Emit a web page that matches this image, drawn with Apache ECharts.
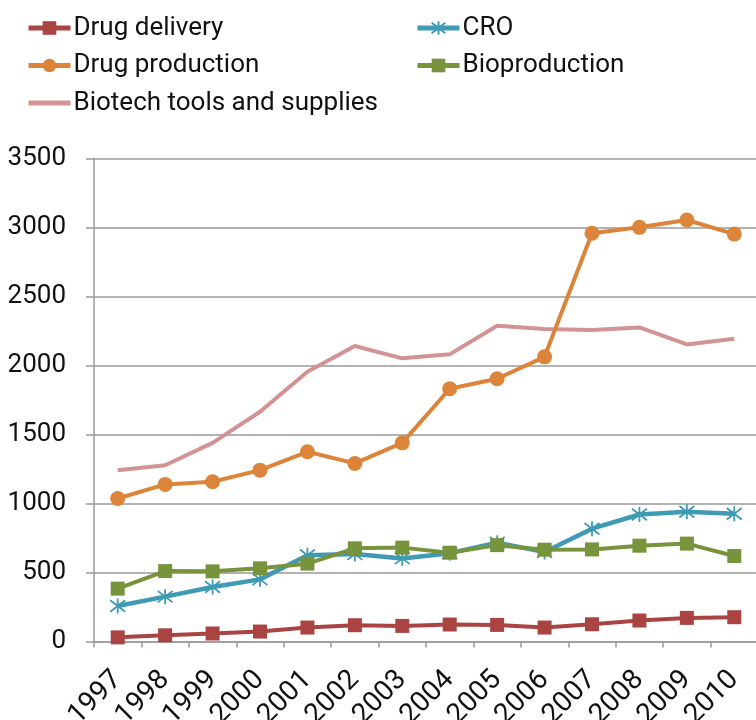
<!DOCTYPE html>
<html>
<head>
<meta charset="utf-8">
<script src="https://cdn.jsdelivr.net/npm/echarts@6/dist/echarts.min.js"></script>
<style>
html,body{margin:0;padding:0;background:#fff;}
#chart{width:756px;height:720px;}
</style>
</head>
<body>
<div id="chart"></div>
<script>
const years = ['1997','1998','1999','2000','2001','2002','2003','2004','2005','2006','2007','2008','2009','2010'];
const drugDelivery = [30,45,58,72,101,118,113,123,120,101,125,152,171,176];
const cro = [257,325,395,450,624,633,602,640,716,648,817,920,940,925];
const drugProduction = [1036,1138,1157,1241,1374,1290,1439,1831,1903,2062,2957,3000,3053,2951];
const bioproduction = [383,510,508,530,564,675,680,643,698,665,667,694,709,619];
const biotechTools = [1241,1277,1439,1664,1954,2140,2051,2080,2287,2263,2256,2275,2152,2193];
const yMin = 0, yMax = 3500, yStep = 500;

const FONT = 'Roboto';
const chart = echarts.init(document.getElementById('chart'));
const asterisk = 'path://M0,0L10,10M10,0L0,10M5,-1.5L5,11.5';

function legendOf(left, names) {
  return {
    left: left, top: 14, padding: 0,
    orient: 'vertical',
    itemWidth: 42,
    itemHeight: 17,
    itemGap: 9.5,
    lineStyle: {width: 5},
    data: names,
    textStyle: {fontFamily: FONT, fontSize: 26, color: '#111', lineHeight: 28, padding: [0,0,0,-2]}
  };
}

chart.setOption({
  animation: false,
  backgroundColor: '#fff',
  legend: [
    legendOf(26, ['Drug delivery', 'Drug production',
      {name: 'Biotech tools and supplies', itemStyle: {opacity: 0}}]),
    legendOf(415, ['CRO', 'Bioproduction'])
  ],
  grid: {left: 94, right: -2, top: 158.3, bottom: 78.5, outerBoundsMode: 'none', containLabel: false},
  xAxis: {
    type: 'category',
    data: years,
    boundaryGap: true,
    axisLine: {lineStyle: {color: '#9a9a9a', width: 1.5}},
    axisTick: {show: true, length: 6, lineStyle: {color: '#9a9a9a', width: 1.5}},
    axisLabel: {interval: 0, rotate: 45, margin: 34, fontFamily: FONT, fontSize: 28, color: '#111'}
  },
  yAxis: {
    type: 'value',
    min: yMin, max: yMax, interval: yStep,
    axisLine: {show: true, lineStyle: {color: '#9a9a9a', width: 1.5}},
    axisTick: {show: true, length: 8, lineStyle: {color: '#9a9a9a', width: 1.5}},
    splitLine: {lineStyle: {color: '#9a9a9a', width: 1.5}},
    axisLabel: {margin: 28, fontFamily: FONT, fontSize: 26, color: '#111',
      formatter: function (v) { return String(v); }}
  },
  series: [
    {name: 'Biotech tools and supplies', type: 'line', data: biotechTools, symbol: 'none', z: 1,
     lineStyle: {color: '#D39394', width: 4}, itemStyle: {color: '#D39394'}},
    {name: 'Drug delivery', type: 'line', data: drugDelivery, symbol: 'rect', symbolSize: 14, z: 2,
     lineStyle: {color: '#A94442', width: 4}, itemStyle: {color: '#A94442'}},
    {name: 'CRO', type: 'line', data: cro, symbol: asterisk, symbolSize: 15, z: 3,
     lineStyle: {color: '#3F9AB5', width: 4.5},
     itemStyle: {color: 'rgba(0,0,0,0)', borderColor: '#3F9AB5', borderWidth: 1.8}},
    {name: 'Drug production', type: 'line', data: drugProduction, symbol: 'circle', symbolSize: 15, z: 4,
     lineStyle: {color: '#DD843B', width: 4}, itemStyle: {color: '#DD843B'}},
    {name: 'Bioproduction', type: 'line', data: bioproduction, symbol: 'rect', symbolSize: 14, z: 5,
     lineStyle: {color: '#77933C', width: 4}, itemStyle: {color: '#77933C'}}
  ]
});
</script>
</body>
</html>
